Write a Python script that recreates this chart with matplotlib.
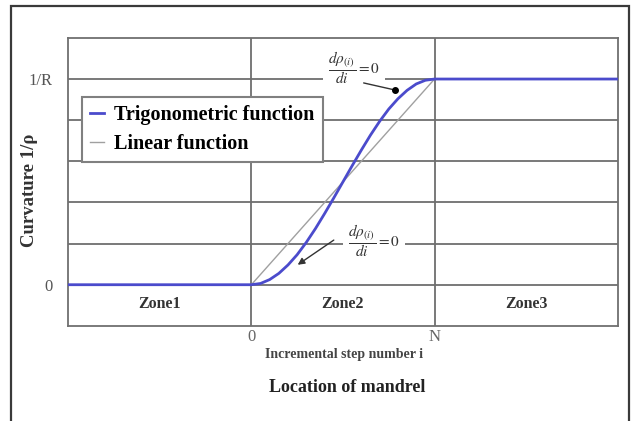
import matplotlib.pyplot as plt
from matplotlib.patches import Rectangle

plt.rcParams['font.family'] = ['Liberation Serif', 'DejaVu Serif']
plt.rcParams['mathtext.fontset'] = 'stix'

# step position i/N and curvature in units of 1/R
trig_step = [-1.0, 0.0, 0.05, 0.1, 0.15, 0.2, 0.25, 0.3, 0.35, 0.4, 0.45, 0.5,
             0.55, 0.6, 0.65, 0.7, 0.75, 0.8, 0.85, 0.9, 0.95, 1.0, 2.0]
trig_curv = [0.0, 0.0, 0.006, 0.025, 0.055, 0.096, 0.146, 0.206, 0.273, 0.346,
             0.422, 0.5, 0.578, 0.654, 0.727, 0.794, 0.854, 0.904, 0.945,
             0.976, 0.994, 1.0, 1.0]
lin_step = [0.0, 1.0]
lin_curv = [0.0, 1.0]

zones = ['Zone1', 'Zone2', 'Zone3']
zone_centers = [-0.5, 0.5, 1.5]
x_ticks = [0, 1]
x_ticklabels = ['0', 'N']
y_ticks = [0, 1]
y_ticklabels = ['0', '1/R']

fig = plt.figure(figsize=(6.31, 4.21), dpi=100)
ax = fig.add_axes([0.108, 0.226, 0.871, 0.684])

# outer frame around the whole figure
fig.patches.append(Rectangle((11 / 631, -0.05), 618 / 631, 1.05 - 6 / 421,
                             transform=fig.transFigure, fill=False,
                             edgecolor='#3a3a3a', lw=1.6))

grid_c = '#6e6e6e'
for y in [0.0, 0.2, 0.4, 0.6, 0.8, 1.0]:
    ax.axhline(y, color=grid_c, lw=1.3, zorder=1)
for x in x_ticks:
    ax.axvline(x, color=grid_c, lw=1.3, zorder=1)

ax.plot(lin_step, lin_curv, color='#a0a0a0', lw=1.0, zorder=3,
        label='Linear function')
ax.plot(trig_step, trig_curv, color='#4b4bcc', lw=2.0, zorder=4,
        label='Trigonometric function')

ax.set_xlim(-1, 2)
ax.set_ylim(-0.2, 1.2)
for s in ax.spines.values():
    s.set_color('#707070')
    s.set_linewidth(1.3)

ax.set_xticks(x_ticks)
ax.set_xticklabels(x_ticklabels, fontsize=12, color='#666666')
ax.set_yticks(y_ticks)
ax.set_yticklabels(y_ticklabels, fontsize=12, color='#555555')
ax.tick_params(axis='x', length=0, pad=2)
ax.tick_params(axis='y', length=0, pad=11)

for name, xc in zip(zones, zone_centers):
    ax.text(xc, -0.095, name, ha='center', va='center', fontsize=11.5,
            fontweight='bold', color='#333333')

fig.text(30 / 631, 1 - 190 / 421, 'Curvature 1/ρ', rotation=90, ha='center',
         va='center', fontsize=13.5, fontweight='bold', color='#333333')
fig.text(0.545, 0.158, 'Incremental step number i', ha='center', va='center',
         fontsize=10, fontweight='bold', color='#444444')
fig.text(0.55, 0.08, 'Location of mandrel', ha='center', va='center',
         fontsize=13, fontweight='bold', color='#222222')

handles, labels = ax.get_legend_handles_labels()
leg = ax.legend(handles[::-1], labels[::-1], loc='upper left',
                bbox_to_anchor=(0.025, 0.795), borderaxespad=0,
                fancybox=False, shadow=False, framealpha=1,
                edgecolor='#808080', handlelength=0.7, handletextpad=0.5,
                borderpad=0.4, labelspacing=0.45,
                prop={'family': 'Liberation Serif', 'weight': 'bold',
                      'size': 14.5})
leg.get_frame().set_linewidth(1.5)
leg.set_zorder(6)

frac = r'$\dfrac{d\rho_{(i)}}{di}=0$'
box = dict(boxstyle='square,pad=0.3', fc='white', ec='none')

# derivative condition at the end of zone 2
ax.text(0.56, 1.058, frac, ha='center', va='center', fontsize=11,
        color='#333333', bbox=box, zorder=5)
ax.annotate('', xy=(0.782, 0.947), xytext=(0.613, 0.981),
            arrowprops=dict(arrowstyle='-', color='#333333', lw=1.0,
                            shrinkA=0, shrinkB=0),
            zorder=7)
ax.plot([0.782], [0.947], 'o', color='black', ms=4, zorder=7)

# derivative condition at the start of zone 2
ax.text(0.67, 0.217, frac, ha='center', va='center', fontsize=11,
        color='#333333', bbox=box, zorder=5)
ax.annotate('', xy=(0.253, 0.097), xytext=(0.45, 0.217),
            arrowprops=dict(arrowstyle='-|>', color='#333333', lw=1.0,
                            mutation_scale=10, shrinkA=0, shrinkB=0),
            zorder=7)

fig.savefig('out.png', dpi=100)
